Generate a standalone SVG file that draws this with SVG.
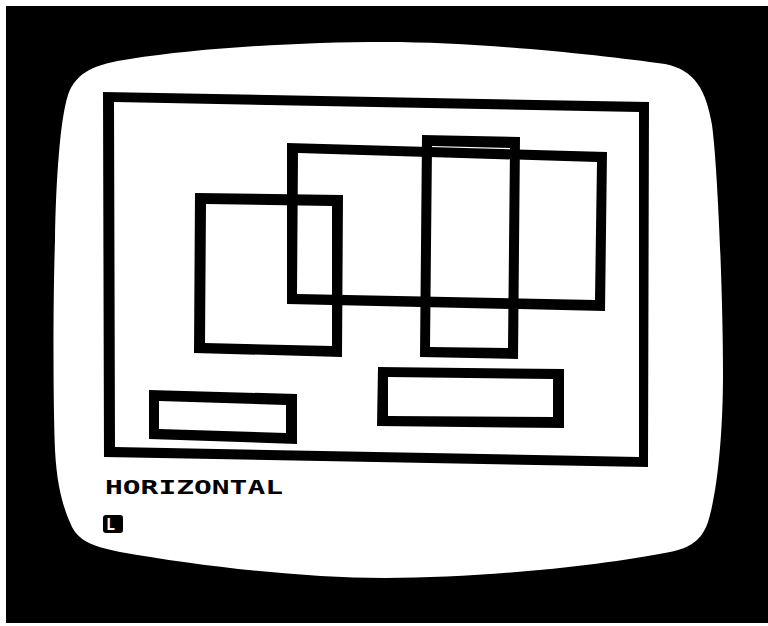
<svg xmlns="http://www.w3.org/2000/svg" width="768" height="626" viewBox="0 0 768 626">
  <style>
    .frame { fill: #000; fill-rule: evenodd; }
    .label { font-family: "DejaVu Sans Mono", "Liberation Mono", monospace; font-weight: bold; fill: #000; }
    .cursor-text { font-family: "DejaVu Sans Mono", "Liberation Mono", monospace; font-weight: bold; fill: #fff; }
  </style>
  <rect x="0" y="0" width="768" height="626" fill="#fff"/>
  <rect id="bezel" x="6" y="6" width="762" height="617" fill="#000"/>
  <path id="screen" fill="#fff" d="M 55,240 C 56,180 60,120 68,95 C 76,72 95,64 130,59 C 200,48 300,42 385,42 C 480,42 600,55 665,64 C 695,70 706,90 712,125 C 718,170 723,300 723,373 C 723,430 718,490 708,522 C 702,540 690,548 670,552 C 600,566 480,578 385,578 C 300,578 200,566 120,552 C 95,547 80,542 72,527 C 65,512 57,490 55,450 C 53,400 53,300 55,240 Z"/>
  <g id="outer-frame">
    <path class="frame" d="M103,92 L649,102 L648,467 L104,457 Z M114,102 L115,447 L639,457 L639,112 Z"/>
  </g>
  <g id="rect-a">
    <path class="frame" d="M195,193 L343,195 L342,357 L194,353 Z M206,204 L205,343 L332,346 L332,206 Z"/>
  </g>
  <g id="rect-b">
    <path class="frame" d="M287,143 L607,152 L605,311 L287,304 Z M298,153 L297,294 L595,300 L597,162 Z"/>
  </g>
  <g id="rect-c">
    <path class="frame" d="M422,135 L520,137 L518,359 L420,357 Z M432,146 L430,347 L508,348 L510,148 Z"/>
  </g>
  <g id="rect-d">
    <path class="frame" d="M149,390 L297,394 L297,444 L149,439 Z M159,401 L159,429 L286,433 L286,405 Z"/>
  </g>
  <g id="rect-e">
    <path class="frame" d="M378,367 L564,369 L564,428 L377,426 Z M388,377 L388,416 L553,417 L553,379 Z"/>
  </g>
  <g id="mode-label">
    <text class="label" x="105" y="494" font-size="20" textLength="178" lengthAdjust="spacingAndGlyphs">HORIZONTAL</text>
  </g>
  <g id="cursor">
    <rect x="103" y="515" width="20" height="18" rx="3" fill="#000"/>
    <text class="cursor-text" x="106" y="530" font-size="15">L</text>
  </g>
</svg>
